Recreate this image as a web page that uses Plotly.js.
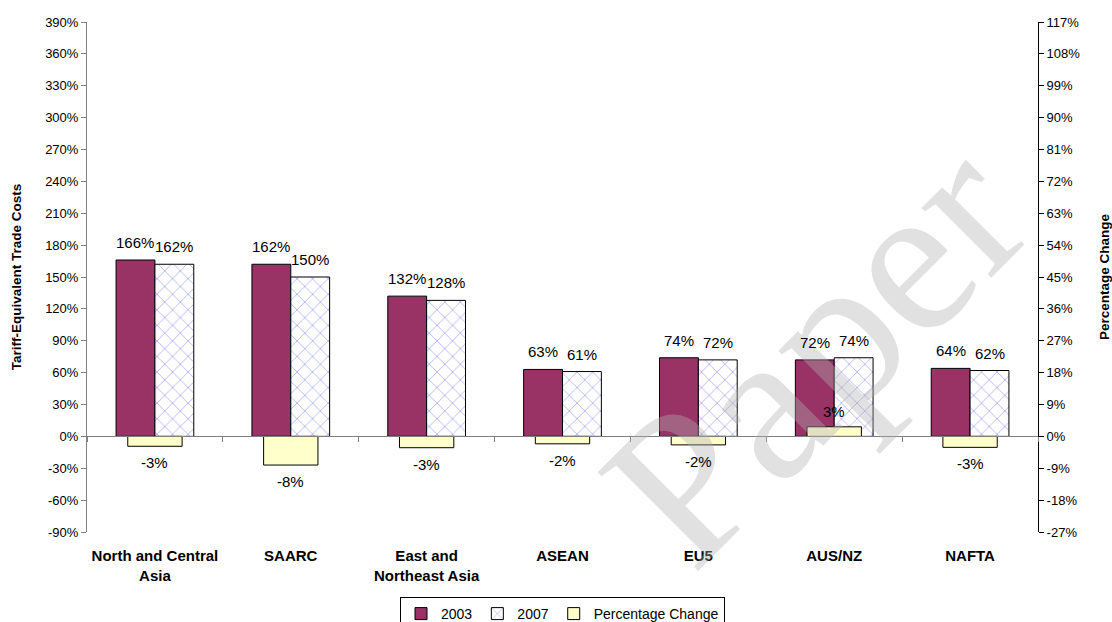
<!DOCTYPE html>
<html>
<head>
<meta charset="utf-8">
<script src="https://cdn.plot.ly/plotly-3.0.1.min.js"></script>
<style>html,body{margin:0;padding:0;background:#fff;}#chart{width:1112px;height:622px;}</style>
</head>
<body>
<div id="chart"></div>
<script>
var categories = ["North and Central<br>Asia", "SAARC", "East and<br>Northeast Asia", "ASEAN", "EU5", "AUS/NZ", "NAFTA"];
var values2003 = [166, 162, 132, 63, 74, 72, 64];
var values2007 = [162, 150, 128, 61, 72, 74, 62];
var pctChange = [-2.8, -8.1, -3.2, -2.1, -2.4, 2.7, -3.1];
var leftTicks = [-90, -60, -30, 0, 30, 60, 90, 120, 150, 180, 210, 240, 270, 300, 330, 360, 390];
var rightTicks = [-27, -18, -9, 0, 9, 18, 27, 36, 45, 54, 63, 72, 81, 90, 99, 108, 117];

var FONT = "Liberation Sans, Arial, sans-serif";
var LABEL_FONT = {family: FONT, size: 15, color: "#000"};

var traces = [
  {
    type: "bar", name: "2003", x: categories, y: values2003,
    xaxis: "x", yaxis: "y",
    marker: {color: "#993366", line: {color: "#000000", width: 1}},
    hoverinfo: "skip"
  },
  {
    type: "bar", name: "2007", x: categories, y: values2007,
    xaxis: "x", yaxis: "y",
    marker: {color: "#ffffff", line: {color: "#000000", width: 1},
      pattern: {shape: "x", fgcolor: "#9b9bf5", bgcolor: "#ffffff", size: 11, solidity: 0.12}},
    hoverinfo: "skip"
  },
  {
    type: "bar", name: "Percentage Change", x: categories, y: pctChange,
    xaxis: "x", yaxis: "y2", width: 0.40,
    marker: {color: "#ffffcc", line: {color: "#000000", width: 1}},
    hoverinfo: "skip"
  }
];

var annotations = [
  {
    text: "Paper", xref: "paper", yref: "paper",
    x: (815 - 87) / 951, y: (532 - 352) / 510,
    xanchor: "center", yanchor: "middle", showarrow: false,
    textangle: -45,
    font: {family: "Liberation Serif, DejaVu Serif, serif", size: 215, color: "rgba(175,175,175,0.38)"}
  }
];
categories.forEach(function(c, i) {
  annotations.push({x: c, y: values2003[i], xref: "x", yref: "y", text: values2003[i] + "%",
    showarrow: false, xanchor: "center", yanchor: "bottom", xshift: -19.5, yshift: 7, font: LABEL_FONT});
  annotations.push({x: c, y: values2007[i], xref: "x", yref: "y", text: values2007[i] + "%",
    showarrow: false, xanchor: "center", yanchor: "bottom", xshift: 19.5, yshift: 7, font: LABEL_FONT});
  var v = pctChange[i];
  annotations.push({x: c, y: v, xref: "x", yref: "y2", text: Math.round(v) + "%",
    showarrow: false, xanchor: "center", yanchor: v < 0 ? "top" : "bottom", yshift: v < 0 ? -6 : 5, font: LABEL_FONT});
});

var layout = {
  width: 1112, height: 622,
  paper_bgcolor: "#ffffff", plot_bgcolor: "rgba(0,0,0,0)",
  font: {family: FONT, size: 13, color: "#000"},
  margin: {l: 87, r: 74, t: 22, b: 90, pad: 0},
  barmode: "group", bargap: 0.428, bargroupgap: 0,
  showlegend: true,
  legend: {
    orientation: "h", xref: "paper", x: 0.5, xanchor: "center",
    yref: "container", y: 0.0402, yanchor: "top",
    bordercolor: "#000", borderwidth: 1, font: {family: FONT, size: 14},
    traceorder: "normal", itemwidth: 30, tracegroupgap: 0
  },
  xaxis: {
    type: "category", range: [-0.5, 6.5], anchor: "free", position: 0.1875,
    showline: true, linecolor: "#808080", linewidth: 1,
    ticks: "outside", tickson: "boundaries", ticklen: 5, tickcolor: "#808080",
    showgrid: false, zeroline: false,
    tickfont: {family: FONT, size: 15, color: "#000", weight: "bold"},
    ticklabelstandoff: 106, automargin: false
  },
  yaxis: {
    range: [-90, 390], tickmode: "array", tickvals: leftTicks,
    ticktext: leftTicks.map(function(v){return v + "%";}),
    showline: true, linecolor: "#808080", linewidth: 1, mirror: false,
    ticks: "outside", ticklen: 5, tickcolor: "#808080",
    showgrid: false, zeroline: false,
    tickfont: {family: FONT, size: 13},
    title: {text: "Tariff-Equivalent Trade Costs", font: {family: FONT, size: 13.5, weight: "bold"}, standoff: 20},
    automargin: false
  },
  yaxis2: {
    overlaying: "y", side: "right", anchor: "x",
    range: [-27, 117], tickmode: "array", tickvals: rightTicks,
    ticktext: rightTicks.map(function(v){return v + "%";}),
    showline: true, linecolor: "#000000", linewidth: 1,
    ticks: "outside", ticklen: 5, tickcolor: "#000",
    showgrid: false, zeroline: false,
    tickfont: {family: FONT, size: 13},
    title: {text: "Percentage Change", font: {family: FONT, size: 13.5, weight: "bold"}, standoff: 20},
    automargin: false
  },
  yaxis3: {
    overlaying: "y", side: "right", anchor: "x",
    range: [-27, 117], tickmode: "array", tickvals: rightTicks,
    showticklabels: false, showline: false,
    ticks: "inside", ticklen: 5, tickcolor: "#000",
    showgrid: false, zeroline: false
  },
  annotations: annotations
};

Plotly.newPlot("chart", traces, layout, {staticPlot: true});
</script>
</body>
</html>
